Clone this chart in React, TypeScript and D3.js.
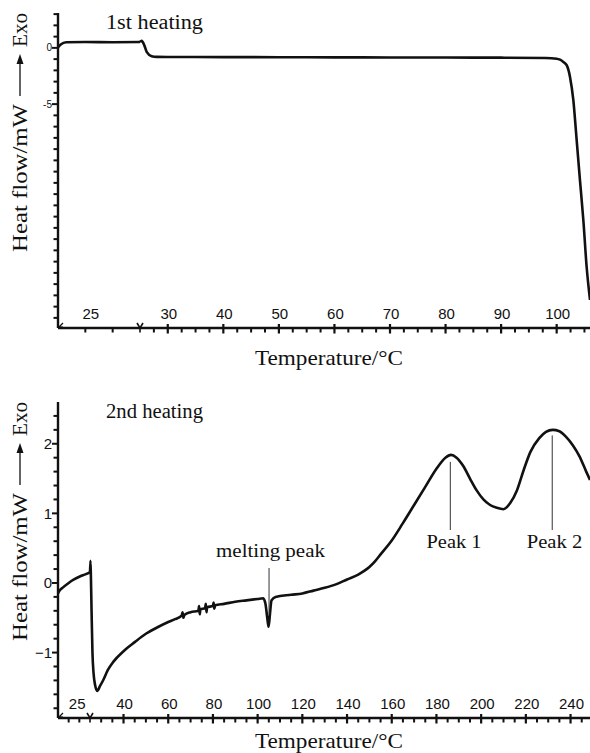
import * as d3 from 'd3';

// 1st heating: isothermal hold (time, min) then ramp (°C)
const topIsoTime = [0, 0.1, 0.3, 1, 2, 3];
const topIsoFlow = [0.05, 0.3, 0.5, 0.52, 0.5, 0.52];
const topRampTemp = [25, 25.3, 25.8, 26.2, 27.1, 28, 30, 40, 50, 60, 70, 80, 90, 98, 100, 100.6, 101.2, 101.8, 102.4, 103, 103.6, 104.2, 104.8, 105.4, 106];
const topRampFlow = [0.52, 0.62, 0.2, -0.36, -0.74, -0.8, -0.81, -0.82, -0.83, -0.84, -0.85, -0.86, -0.87, -0.9, -0.96, -1.05, -1.25, -1.54, -2.58, -4.65, -8.2, -11.8, -15.3, -19.5, -22.4];

// 2nd heating
const botIsoTime = [0, 0.1, 0.5, 1, 1.5, 2, 2.5, 3];
const botIsoFlow = [-0.15, -0.12, -0.06, 0.0, 0.05, 0.09, 0.12, 0.15];
const botRampTemp = [25, 25.2, 25.4, 25.7, 26.1, 26.6, 27.3, 28.2, 29.5, 31, 33, 35.5, 40, 45, 50, 55, 60, 63, 66, 66.4, 66.8, 67.2, 70, 73.5, 73.8, 74.1, 74.4, 76.5, 76.8, 77.1, 77.4, 80, 80.3, 80.6, 81, 85, 90, 95, 100, 102.5, 103.5, 104.3, 104.9, 105.5, 106.2, 108, 115, 120, 125, 130, 135, 140, 145, 147.5, 150, 152.5, 155, 160, 165, 170, 175, 180, 184, 186.5, 189, 192, 195, 198, 201, 204, 207, 210, 213, 216, 219, 222, 226, 229, 232, 235, 238, 241, 244, 247, 248.7];
const botRampFlow = [0.15, 0.32, 0.1, -0.4, -1.0, -1.3, -1.47, -1.55, -1.48, -1.39, -1.25, -1.13, -0.98, -0.85, -0.73, -0.64, -0.56, -0.52, -0.47, -0.42, -0.5, -0.46, -0.42, -0.4, -0.33, -0.45, -0.38, -0.36, -0.3, -0.42, -0.35, -0.33, -0.28, -0.37, -0.32, -0.3, -0.27, -0.25, -0.23, -0.22, -0.3, -0.5, -0.63, -0.45, -0.25, -0.2, -0.17, -0.15, -0.11, -0.07, -0.02, 0.05, 0.12, 0.17, 0.23, 0.31, 0.41, 0.61, 0.86, 1.12, 1.38, 1.64, 1.8, 1.84, 1.8, 1.68, 1.5, 1.33, 1.2, 1.12, 1.08, 1.06, 1.15, 1.33, 1.62, 1.88, 2.08, 2.17, 2.2, 2.18, 2.1, 1.98, 1.82, 1.6, 1.48];

const topTempTicks = [30, 40, 50, 60, 70, 80, 90, 100];
const botTempTicks = [40, 60, 80, 100, 120, 140, 160, 180, 200, 220, 240];
const topFlowTicks = [0, -5];
const botFlowTicks = [2, 1, 0, -1];

const serif = '"Liberation Serif", "Times New Roman", serif';
const sans = '"Liberation Sans", Arial, sans-serif';

type Pt = [number, number];
const zip = (a: number[], b: number[]): Pt[] => a.map((v, i) => [v, b[i]]);

interface PanelProps {
  yTop: number;
  yBot: number;
  xBreak: number;
  flowDomain: [number, number];
  tempMax: number;
  isoTime: number[];
  isoFlow: number[];
  rampTemp: number[];
  rampFlow: number[];
  tempTicks: number[];
  tempMinor: number;
  flowTicks: number[];
  flowMinor: number;
  flowLabelSize: number;
  isoLabelAt: number;
  title: string;
  titleY: number;
  labelY: number;
  tickLabelY: number;
}

const X0 = 58;
const X1 = 590;
const ink = '#111';

const Panel = (p: PanelProps) => {
  const isoX = d3.scaleLinear().domain([0, 3]).range([X0, p.xBreak]);
  const tempX = d3.scaleLinear().domain([25, p.tempMax]).range([p.xBreak, X1]);
  const y = d3.scaleLinear().domain(p.flowDomain).range([p.yBot, p.yTop]);

  const isoLine = d3.line<Pt>().x(d => isoX(d[0])).y(d => y(d[1])).curve(d3.curveMonotoneX);
  const rampLine = d3.line<Pt>().x(d => tempX(d[0])).y(d => y(d[1])).curve(d3.curveMonotoneX);

  const minorT = d3.range(25 + p.tempMinor, p.tempMax + 0.01, p.tempMinor)
    .filter(t => !p.tempTicks.some(m => Math.abs(m - t) < 1e-6));
  const flowMinorTicks = d3.range(Math.ceil(p.flowDomain[0] / p.flowMinor) * p.flowMinor, p.flowDomain[1], p.flowMinor)
    .filter(v => !p.flowTicks.some(t => Math.abs(t - v) < 1e-6));

  const yb = p.yBot;
  return (
    <g>
      {/* curve */}
      <path d={isoLine(zip(p.isoTime, p.isoFlow)) || ''} fill="none" stroke={ink} strokeWidth={2.6} />
      <path d={rampLine(zip(p.rampTemp, p.rampFlow)) || ''} fill="none" stroke={ink} strokeWidth={2.6} strokeLinejoin="round" />

      {/* y axis */}
      <line x1={X0} x2={X0} y1={p.yTop} y2={yb} stroke={ink} strokeWidth={2.4} />
      {flowMinorTicks.map(v => (
        <line key={'fm' + v} x1={X0 - 4.5} x2={X0} y1={y(v)} y2={y(v)} stroke={ink} strokeWidth={2} />
      ))}
      {p.flowTicks.map(v => (
        <g key={'f' + v}>
          <line x1={X0 - 6} x2={X0} y1={y(v)} y2={y(v)} stroke={ink} strokeWidth={2} />
          <text x={X0 - 6} y={y(v)} dy="0.35em" textAnchor="end" fontFamily={sans} fontSize={p.flowLabelSize} fill={ink}>
            {v < 0 ? (p.flowLabelSize > 12 ? '\u2212' : '-') + Math.abs(v) : v}
          </text>
        </g>
      ))}

      {/* x axis */}
      <line x1={X0} x2={X1} y1={yb} y2={yb} stroke={ink} strokeWidth={2.4} />
      {[1, 2].map(t => (
        <line key={'it' + t} x1={isoX(t)} x2={isoX(t)} y1={yb} y2={yb + 4.5} stroke={ink} strokeWidth={2} />
      ))}
      <path d={`M${X0 + 1},${yb - 1} l4,-4 M${X0 + 1},${yb - 1} l4,0`} stroke={ink} strokeWidth={1.2} fill="none" />
      <path d={`M${p.xBreak - 3},${yb - 5} L${p.xBreak},${yb} L${p.xBreak + 3},${yb - 5} M${p.xBreak},${yb} L${p.xBreak},${yb + 4.5}`} stroke={ink} strokeWidth={1.6} fill="none" />
      {minorT.map(t => (
        <line key={'tm' + t} x1={tempX(t)} x2={tempX(t)} y1={yb} y2={yb + 4.5} stroke={ink} strokeWidth={2} />
      ))}
      {p.tempTicks.map(t => (
        <g key={'t' + t}>
          <line x1={tempX(t)} x2={tempX(t)} y1={yb - 4} y2={yb + 5.5} stroke={ink} strokeWidth={2.2} />
          <text x={tempX(t) + 1} y={p.tickLabelY} textAnchor="middle" fontFamily={sans} fontSize={15} fill={ink}>{t}</text>
        </g>
      ))}
      <text x={isoX(p.isoLabelAt)} y={p.tickLabelY} textAnchor="middle" fontFamily={sans} fontSize={15} fill={ink}>25</text>

      {/* titles */}
      <text x={106} y={p.titleY} fontFamily={serif} fontSize={20} textLength={97} lengthAdjust="spacingAndGlyphs" fill={ink}>{p.title}</text>
      <text x={255} y={p.labelY} fontFamily={serif} fontSize={21} textLength={148} lengthAdjust="spacingAndGlyphs" fill={ink}>Temperature/°C</text>

      {/* y label with Exo arrow */}
      <g transform={`translate(27, ${p.yTop + 239}) rotate(-90)`}>
        <text x={0} y={0} fontFamily={serif} fontSize={21} textLength={148} lengthAdjust="spacingAndGlyphs" fill={ink}>Heat flow/mW</text>
        <line x1={156} x2={190} y1={-7} y2={-7} stroke={ink} strokeWidth={1.3} />
        <path d="M198,-7 L188,-10.5 L188,-3.5 Z" fill={ink} />
        <text x={205} y={0} fontFamily={serif} fontSize={21} textLength={34} lengthAdjust="spacingAndGlyphs" fill={ink}>Exo</text>
      </g>
    </g>
  );
};

const App = () => {
  // annotation scales for the 2nd heating panel (same as in Panel)
  const botX = d3.scaleLinear().domain([25, 248.7]).range([90, X1]);
  const botY = d3.scaleLinear().domain([-1.94, 2.6]).range([718, 402]);
  const notes = [
    { label: 'melting peak', t: 105.1, y1: 568, y2v: -0.45, tx: 270.5, ty: 557, w: 109 },
    { label: 'Peak 1', t: 186.2, y1v: 1.74, y2: 530, tx: 454, ty: 548, w: 55 },
    { label: 'Peak 2', t: 231.8, y1v: 2.12, y2: 530, tx: 554.5, ty: 548, w: 55.5 },
  ];

  return (
    <svg width={590} height={753} style={{ position: 'absolute', left: 0, top: 0, background: '#fff' }}>
      <rect width={590} height={753} fill="#fff" />
      <Panel
        yTop={13} yBot={328} xBreak={140} flowDomain={[-24.9, 3.1]} tempMax={106}
        isoTime={topIsoTime} isoFlow={topIsoFlow} rampTemp={topRampTemp} rampFlow={topRampFlow}
        tempTicks={topTempTicks} tempMinor={2.5}
        flowTicks={topFlowTicks} flowMinor={1} flowLabelSize={10} isoLabelAt={1.2}
        title="1st heating" titleY={29} labelY={365} tickLabelY={319}
      />
      <Panel
        yTop={402} yBot={718} xBreak={90} flowDomain={[-1.94, 2.6]} tempMax={248.7}
        isoTime={botIsoTime} isoFlow={botIsoFlow} rampTemp={botRampTemp} rampFlow={botRampFlow}
        tempTicks={botTempTicks} tempMinor={5}
        flowTicks={botFlowTicks} flowMinor={0.2} flowLabelSize={15} isoLabelAt={1.8}
        title="2nd heating" titleY={418} labelY={748} tickLabelY={709}
      />
      {notes.map(n => (
        <g key={n.label}>
          <line
            x1={botX(n.t)} x2={botX(n.t)}
            y1={n.y1 !== undefined ? n.y1 : botY(n.y1v as number)}
            y2={n.y2 !== undefined ? n.y2 : botY(n.y2v as number)}
            stroke="#333" strokeWidth={1}
          />
          <text x={n.tx} y={n.ty} textAnchor="middle" fontFamily={serif} fontSize={18} textLength={n.w} lengthAdjust="spacingAndGlyphs" fill={ink}>{n.label}</text>
        </g>
      ))}
    </svg>
  );
};

export default App;
